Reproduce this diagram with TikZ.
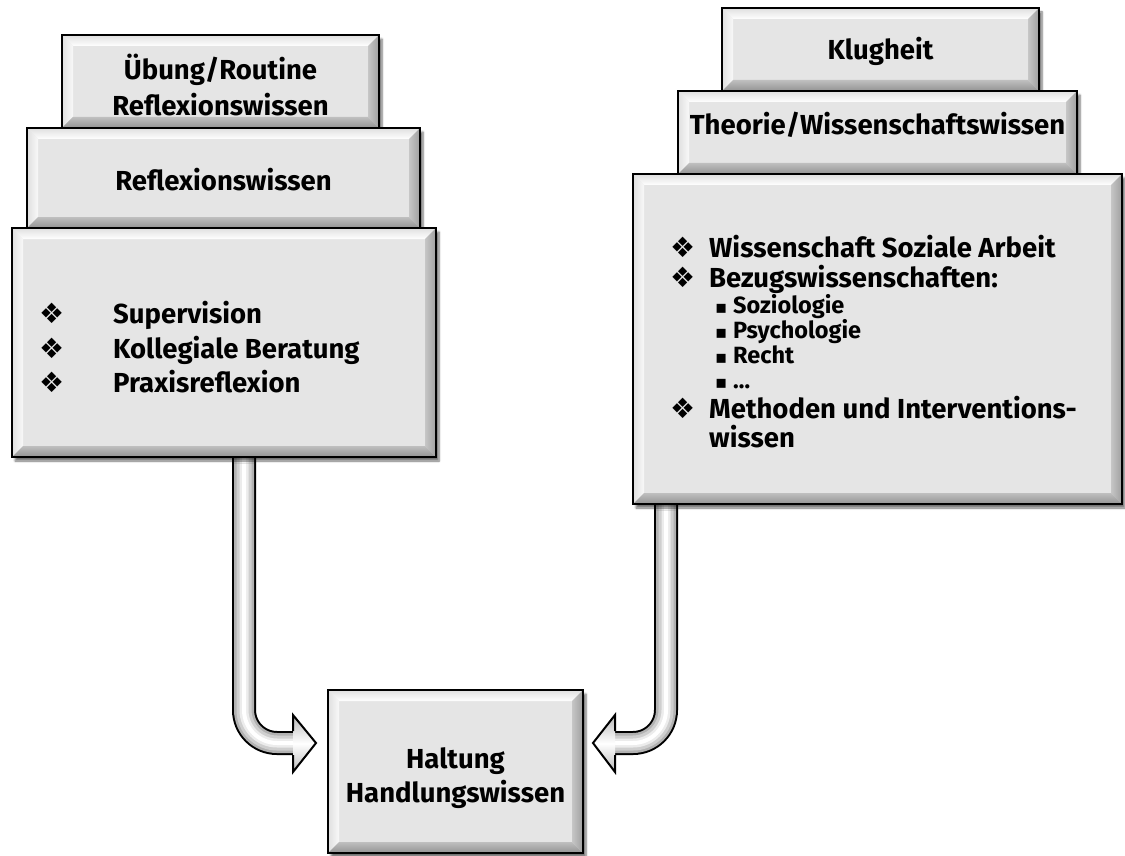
\documentclass[tikz,border=0pt]{standalone}
\usepackage{fontspec}
\setmainfont{Fira Sans}
\newfontfamily\symf{DejaVu Sans}
\usetikzlibrary{shadows.blur}
\tikzset{
  bevel/.style={
    path picture={
      \coordinate (pnw) at (path picture bounding box.north west);
      \coordinate (pne) at (path picture bounding box.north east);
      \coordinate (psw) at (path picture bounding box.south west);
      \coordinate (pse) at (path picture bounding box.south east);
      \coordinate (qnw) at ([shift={(11pt,-11pt)}]pnw);
      \coordinate (qne) at ([shift={(-11pt,-11pt)}]pne);
      \coordinate (qsw) at ([shift={(11pt,11pt)}]psw);
      \coordinate (qse) at ([shift={(-11pt,11pt)}]pse);
      \shade[top color=gray!25, bottom color=white] (pnw) -- (pne) -- (qne) -- (qnw) -- cycle;
      \shade[left color=gray!25, right color=gray!5] (pnw) -- (qnw) -- (qsw) -- (psw) -- cycle;
      \shade[left color=gray!45, right color=gray!75] (pne) -- (qne) -- (qse) -- (pse) -- cycle;
      \shade[top color=gray!50, bottom color=gray!85] (psw) -- (qsw) -- (qse) -- (pse) -- cycle;
    }
  },
  box/.style={draw=black, line width=2.6pt, fill=gray!20, inner sep=0pt, bevel,
    blur shadow={shadow xshift=3pt, shadow yshift=-4pt, shadow blur steps=6, shadow opacity=55},
    font=\bfseries\fontsize{27.5}{36}\selectfont, align=center},
  item/.style={anchor=base west, inner sep=0pt, font=\bfseries\fontsize{27.5}{30}\selectfont},
  subitem/.style={anchor=base west, inner sep=0pt, font=\bfseries\fontsize{23.5}{26}\selectfont},
  tube/.style={draw=black, line width=24pt, rounded corners=33pt,
    postaction={draw=gray!60, line width=20pt},
    postaction={draw=gray!38, line width=15pt},
    postaction={draw=gray!15, line width=9pt},
    postaction={draw=white, line width=4pt}},
  headfill/.style={top color=gray!55, bottom color=gray!55, middle color=white},
  headline/.style={draw=black, line width=2pt, line join=miter},
}
\newcommand{\dia}{\makebox[0pt][l]{\symf\fontsize{28}{28}\selectfont ❖}}
\newcommand{\sqb}{\makebox[0pt][l]{\symf\fontsize{18}{18}\selectfont ▪}}
\newcommand{\shiftv}[2]{\raisebox{#1}[\height][\depth]{#2}}
\begin{document}
\begin{tikzpicture}[x=1pt,y=-1pt]
\useasboundingbox (0,0) rectangle (1125,856);

% arrows (drawn first, boxes on top)
\coordinate (lbase) at (293,743);
\coordinate (rbase) at (615,743);
\node[minimum width=424pt, minimum height=229pt, inner sep=0pt] (Cg) at (224,342.5) {};
\node[minimum width=489pt, minimum height=330pt, inner sep=0pt] (Fg) at (877.5,339) {};
\draw[tube] ([xshift=20pt]Cg.south) |- (lbase);
\draw[tube] ([xshift=-211.5pt]Fg.south) |- (rbase);
\shade[headfill] ([yshift=28pt]lbase) -- ([xshift=23pt]lbase) -- ([yshift=-29pt]lbase) -- cycle;
\draw[headline] ([yshift=12pt]lbase) -- ([yshift=28pt]lbase) -- ([xshift=23pt]lbase) -- ([yshift=-29pt]lbase) -- ([yshift=-12pt]lbase);
\shade[headfill] ([yshift=28pt]rbase) -- ([xshift=-22pt]rbase) -- ([yshift=-29pt]rbase) -- cycle;
\draw[headline] ([yshift=12pt]rbase) -- ([yshift=28pt]rbase) -- ([xshift=-22pt]rbase) -- ([yshift=-29pt]rbase) -- ([yshift=-12pt]rbase);

% left column
\node[box, minimum width=317pt, minimum height=93pt] (A) at (220.5,81.5) {\shiftv{-4pt}{\parbox{300pt}{\centering\baselineskip=36pt Übung/Routine\\Reflexionswissen}}};
\node[box, minimum width=393pt, minimum height=100pt] (B) at (223.5,178) {\shiftv{-2pt}{Reflexionswissen}};
\node[box, minimum width=424pt, minimum height=229pt] (C) at (224,342.5) {};
\node[item] (c1) at (39,323) {\dia\hspace*{74pt}Supervision};
\node[item] (c2) at (39,358) {\dia\hspace*{74pt}Kollegiale Beratung};
\node[item] (c3) at (39,392) {\dia\hspace*{74pt}Praxisreflexion};

% right column
\node[box, minimum width=317pt, minimum height=83pt] (D) at (880.5,49.5) {\shiftv{-2pt}{Klugheit}};
\node[box, minimum width=399pt, minimum height=83pt] (E) at (877.5,132.5) {\shiftv{8pt}{Theorie/Wissenschaftswissen}};
\node[box, minimum width=489pt, minimum height=330pt] (F) at (877.5,339) {};
\node[item] (f1) at (670,257) {\dia\hspace*{39pt}Wissenschaft Soziale Arbeit};
\node[item] (f2) at (670,287) {\dia\hspace*{39pt}Bezugswissenschaften:};
\node[subitem] (f3) at (715,313) {\sqb\hspace*{18pt}Soziologie};
\node[subitem] (f4) at (715,338) {\sqb\hspace*{18pt}Psychologie};
\node[subitem] (f5) at (715,363) {\sqb\hspace*{18pt}Recht};
\node[subitem] (f6) at (715,388) {\sqb\hspace*{18pt}…};
\node[item] (f7) at (670,418) {\dia\hspace*{39pt}Methoden und Interventions-};
\node[item] (f8) at (709,447) {wissen};

% bottom
\node[box, minimum width=255pt, minimum height=163pt] (G) at (455.5,771.5) {\shiftv{-7pt}{\parbox{240pt}{\centering\baselineskip=34pt Haltung\\Handlungswissen}}};
\end{tikzpicture}
\end{document}
